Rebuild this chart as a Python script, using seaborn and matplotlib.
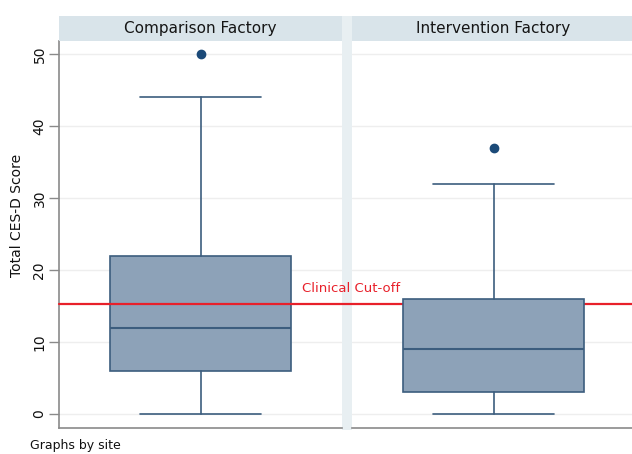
import matplotlib
matplotlib.use("Agg")
import matplotlib.pyplot as plt
import seaborn as sns
from matplotlib.patches import Rectangle

# Summary statistics of the Total CES-D score by site
sites = ["Comparison Factory", "Intervention Factory"]
whisker_low = [0, 0]
q1 = [6, 3]
median = [12, 9]
q3 = [22, 16]
whisker_high = [44, 32]
outliers = [[50], [37]]
cutoff = 15.3
yticks = [0, 10, 20, 30, 40, 50]

sns.set_theme(style="white")
plt.rcParams["font.family"] = ["DejaVu Sans"]

W, H = 632, 454
fig = plt.figure(figsize=(W / 100, H / 100), dpi=100)
fig.patch.set_facecolor("white")

def fx(px):
    return px / W

def fy(py):
    return 1 - py / H

plot_top, plot_bot = 41, 428
panels = [(59, 342), (352, 635)]

box_fill = "#8da2b8"
box_edge = "#3c5d7e"
strip_col = "#d9e4ea"
gap_col = "#e8eff2"

# light band separating the two panels
fig.add_artist(Rectangle((fx(342), fy(430)), fx(10), fy(16) - fy(430),
                         transform=fig.transFigure, facecolor=gap_col,
                         edgecolor="none", zorder=-1))

axes = []
for i, (x0, x1) in enumerate(panels):
    ax = fig.add_axes([fx(x0), fy(plot_bot), fx(x1 - x0), fy(plot_top) - fy(plot_bot)])
    ax.set_facecolor("none")
    stats = [dict(med=median[i], q1=q1[i], q3=q3[i], whislo=whisker_low[i],
                  whishi=whisker_high[i], fliers=outliers[i], label=sites[i])]
    ax.bxp(stats, positions=[0], widths=0.64, patch_artist=True,
           showcaps=True, manage_ticks=False,
           boxprops=dict(facecolor=box_fill, edgecolor=box_edge, linewidth=1.2),
           medianprops=dict(color=box_edge, linewidth=1.5),
           whiskerprops=dict(color=box_edge, linewidth=1.2),
           capprops=dict(color=box_edge, linewidth=1.2),
           capwidths=0.427,
           flierprops=dict(marker="o", markersize=6, markerfacecolor="#1b4a78",
                           markeredgecolor="#1b4a78"))
    ax.set_xlim(-0.5, 0.5)
    ax.set_ylim(-1.94, 51.8)
    ax.set_xticks([])
    ax.set_yticks(yticks)
    ax.grid(axis="y", color="#eeeeee", linewidth=1.0)
    ax.set_axisbelow(True)
    for s in ["top", "right"]:
        ax.spines[s].set_visible(False)
    ax.spines["bottom"].set_color("#8a8a8a")
    ax.spines["bottom"].set_linewidth(1.2)
    if i == 0:
        ax.spines["left"].set_color("#8a8a8a")
        ax.spines["left"].set_linewidth(1.2)
        ax.tick_params(axis="y", left=True, length=7, width=1.0, color="#8a8a8a",
                       labelsize=10, labelrotation=90, pad=2, labelcolor="#111111")
        for lab in ax.get_yticklabels():
            lab.set_va("center")
        ax.set_ylabel("Total CES-D Score", fontsize=10, color="#111111")
        ax.yaxis.set_label_coords(-0.125, 0.55)
    else:
        ax.spines["left"].set_visible(False)
        ax.tick_params(axis="y", left=False, labelleft=False)
    # strip with the site name
    fig.add_artist(Rectangle((fx(x0), fy(41)), fx(x1 - x0), fy(16) - fy(41),
                             transform=fig.transFigure, facecolor=strip_col,
                             edgecolor="none"))
    fig.text(fx((x0 + x1) / 2), fy(28.5), sites[i], ha="center", va="center",
             fontsize=11, color="#151515")
    axes.append(ax)

# clinical cut-off line across both panels
ax0 = axes[0]
ax0.axhline(cutoff, xmin=0, xmax=(635 - 59) / (342 - 59), color="#e8202a",
            linewidth=1.6, clip_on=False, zorder=5)
ax0.text((302 - 59) / (342 - 59), 17.5, "Clinical Cut-off", transform=ax0.get_yaxis_transform(),
         color="#e8202a", fontsize=9.5, ha="left", va="center", clip_on=False, zorder=6)

fig.text(fx(30), fy(446), "Graphs by site", ha="left", va="center", fontsize=9,
         color="#111111")

fig.savefig("out.png", dpi=100)
